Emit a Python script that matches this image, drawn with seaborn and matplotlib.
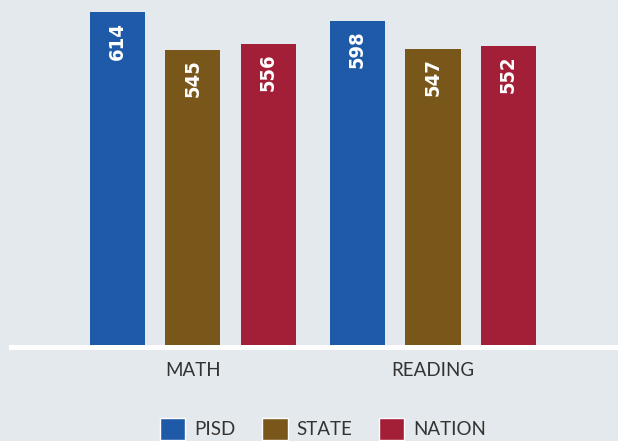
import pandas as pd
import matplotlib.pyplot as plt
import seaborn as sns
from matplotlib.patches import Patch

subjects = ['MATH', 'READING']
groups = ['PISD', 'STATE', 'NATION']
pisd = [614, 598]
state = [545, 547]
nation = [556, 552]
colors = ['#1e5aa8', '#79561a', '#a31f37']

df = pd.DataFrame({
    'subject': subjects * 3,
    'group': [g for g in groups for _ in subjects],
    'score': pisd + state + nation,
})

bg = '#e4e9ed'
sns.set_theme(style='white')
plt.rcParams['font.family'] = ['Lato', 'DejaVu Sans']

fig = plt.figure(figsize=(6.18, 4.41), dpi=100, facecolor=bg)
ax = fig.add_axes([11 / 618, 1 - 347 / 441, 607 / 618, 347 / 441])
ax.set_facecolor(bg)

sns.barplot(data=df, x='subject', y='score', hue='group', hue_order=groups,
            palette=colors, width=0.944, gap=0.27, saturation=1, linewidth=0,
            legend=False, ax=ax)

# value labels, rotated inside the top of each bar
for cont in ax.containers:
    for bar in cont:
        h = bar.get_height()
        ax.annotate(f'{h:.0f}', (bar.get_x() + bar.get_width() / 2, h),
                    xytext=(0, -7), textcoords='offset points',
                    rotation=90, ha='center', va='top', color='white',
                    fontsize=14.5, fontweight='bold', fontstretch='condensed',
                    family=['DejaVu Sans'])

ax.set_xlim(-0.758, 1.771)
ax.set_ylim(0, 636)
ax.set_xlabel('')
ax.set_ylabel('')
ax.set_yticks([])
for s in ['top', 'left', 'right']:
    ax.spines[s].set_visible(False)
ax.spines['bottom'].set_color('white')
ax.spines['bottom'].set_linewidth(3.6)
ax.tick_params(axis='x', length=0, pad=11, labelsize=13.5, labelcolor='#333333')

handles = [Patch(facecolor=c, label=g) for g, c in zip(groups, colors)]
fig.legend(handles=handles, loc='center', bbox_to_anchor=(323 / 618, 1 - 429 / 441),
           ncol=3, frameon=False, fontsize=13.5, labelcolor='#333333',
           handlelength=1.35, handleheight=1.45, handletextpad=0.45,
           columnspacing=1.45, borderaxespad=0, borderpad=0)

fig.savefig('out.png', dpi=100, facecolor=bg)
